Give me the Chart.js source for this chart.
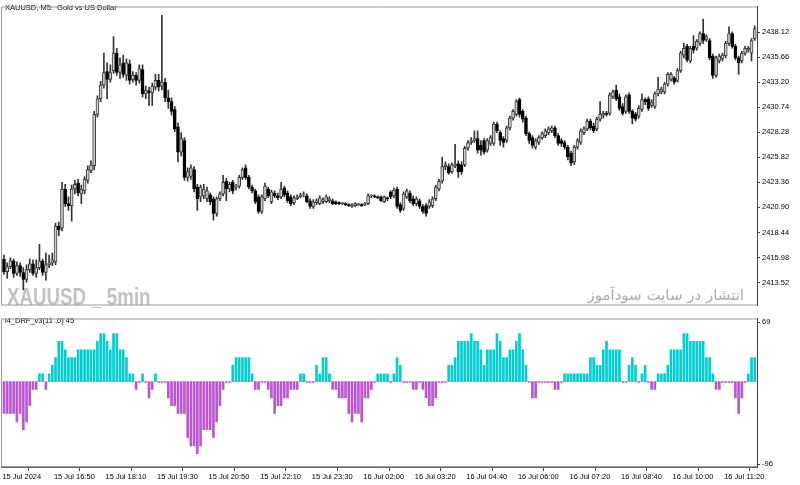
<!DOCTYPE html>
<html>
<head>
<meta charset="utf-8">
<script src="https://cdn.jsdelivr.net/npm/chart.js@4.4.1/dist/chart.umd.min.js"></script>
<style>
  html, body { margin: 0; padding: 0; background: #fff; }
  #wrap { position: relative; width: 800px; height: 485px; overflow: hidden; }
  #priceBox { position: absolute; left: 0; top: 0; width: 800px; height: 312px; }
  #indBox { position: absolute; left: 0; top: 312px; width: 800px; height: 173px; }
</style>
</head>
<body>
<div id="wrap">
  <div id="priceBox"><canvas id="priceChart"></canvas></div>
  <div id="indBox"><canvas id="indChart"></canvas></div>
</div>
<script>
// XAUUSD M5 candles (open / close / high / low), one entry per bar
const openP = [
  2415.84, 2414.60, 2415.08, 2415.65, 2414.41, 2415.18, 2414.51, 2413.84, 2414.79, 2415.37,
  2414.41, 2414.99, 2415.65, 2414.51, 2415.27, 2415.46, 2415.56, 2419.08, 2418.89, 2422.71,
  2421.28, 2421.08, 2422.71, 2423.28, 2422.23, 2422.52, 2423.56, 2424.51, 2424.99, 2430.04,
  2431.57, 2432.91, 2434.24, 2433.48, 2434.34, 2436.05, 2434.15, 2435.10, 2433.86, 2435.00,
  2433.48, 2433.86, 2433.38, 2434.43, 2432.05, 2432.34, 2432.15, 2432.72, 2433.38, 2432.81,
  2433.19, 2431.67, 2431.29, 2430.52, 2428.81, 2426.33, 2427.47, 2423.85, 2423.94, 2424.61,
  2422.90, 2421.94, 2422.04, 2421.75, 2422.13, 2421.75, 2420.32, 2421.75, 2422.23, 2423.47,
  2422.71, 2423.37, 2422.90, 2422.99, 2423.85, 2424.80, 2423.85, 2422.90, 2422.52, 2421.94,
  2420.51, 2421.75, 2422.71, 2421.46, 2422.32, 2422.04, 2421.94, 2422.80, 2422.32, 2421.94,
  2421.37, 2421.75, 2421.94, 2422.13, 2422.04, 2421.56, 2420.99, 2421.37, 2421.28, 2421.46,
  2421.46, 2421.56, 2421.56, 2421.46, 2421.37, 2421.28, 2421.28, 2421.18, 2420.99,
  2421.08, 2421.18, 2421.18, 2421.18, 2421.28, 2422.04, 2422.04, 2421.94, 2421.94, 2421.46,
  2421.85, 2422.42, 2422.04, 2422.71, 2421.18, 2420.80, 2421.94, 2422.32, 2421.75, 2421.28,
  2421.56, 2420.99, 2421.08, 2420.99, 2421.08, 2421.75, 2422.71, 2423.47, 2424.90, 2424.90,
  2424.42, 2424.99, 2425.18, 2425.09, 2425.09, 2426.71, 2427.28, 2427.47, 2427.66, 2427.00,
  2427.47, 2426.52, 2427.19, 2427.19, 2429.09, 2428.24, 2427.66, 2427.47, 2428.71, 2429.67,
  2430.04, 2431.48, 2430.33, 2429.67, 2428.14, 2427.76, 2426.81, 2427.28, 2427.76, 2427.95,
  2428.24, 2428.43, 2428.71, 2427.95, 2427.47, 2427.28, 2426.81, 2426.23, 2425.38, 2426.81,
  2427.28, 2428.24, 2428.62, 2429.38, 2428.90, 2428.62, 2429.57, 2429.95, 2430.14, 2430.14,
  2431.76, 2432.43, 2431.76, 2430.81, 2430.33, 2431.95, 2430.33, 2430.04, 2429.86, 2430.52,
  2431.48, 2431.57, 2430.91, 2430.81, 2432.05, 2432.24, 2432.24, 2433.00, 2433.48, 2433.58,
  2433.38, 2434.34, 2435.86, 2436.72, 2435.29, 2436.72, 2436.53, 2437.01, 2437.96, 2437.39,
  2437.29, 2435.77, 2433.86, 2435.29, 2435.48, 2435.77, 2437.01, 2437.96, 2436.72, 2435.58,
  2435.29, 2436.05, 2436.34, 2436.05, 2437.48
];
const closeP = [
  2414.60, 2415.08, 2415.65, 2414.41, 2415.18, 2414.51, 2413.84, 2414.79, 2415.37, 2414.41,
  2414.99, 2415.65, 2414.51, 2415.27, 2415.46, 2415.75, 2419.08, 2418.70, 2422.71, 2421.28,
  2421.08, 2422.71, 2423.18, 2422.32, 2422.71, 2423.66, 2424.61, 2425.09, 2430.04, 2431.57,
  2432.91, 2434.15, 2433.48, 2434.15, 2436.05, 2434.15, 2434.91, 2433.96, 2435.10, 2433.38,
  2433.86, 2433.38, 2434.53, 2432.05, 2432.43, 2432.15, 2432.81, 2433.38, 2432.72, 2433.19,
  2431.67, 2431.29, 2430.33, 2428.62, 2426.33, 2427.66, 2423.85, 2424.42, 2424.80, 2422.71,
  2421.75, 2422.90, 2422.71, 2422.52, 2421.46, 2420.32, 2421.75, 2422.23, 2423.37, 2422.71,
  2423.18, 2422.52, 2422.99, 2423.85, 2424.61, 2423.85, 2422.90, 2422.52, 2421.46, 2420.51,
  2421.94, 2422.99, 2422.04, 2422.42, 2422.04, 2421.85, 2422.71, 2422.13, 2421.56, 2421.28,
  2421.85, 2421.94, 2422.13, 2422.13, 2421.46, 2420.99, 2421.46, 2421.56, 2421.85, 2421.66,
  2421.94, 2421.75, 2421.28, 2421.28, 2421.28, 2421.28, 2421.18, 2421.08, 2421.18,
  2421.28, 2421.18, 2421.08, 2421.28, 2422.04, 2422.04, 2421.94, 2421.85, 2421.56, 2421.94,
  2421.75, 2421.94, 2422.61, 2420.99, 2420.61, 2422.23, 2422.52, 2421.56, 2421.28, 2421.75,
  2420.99, 2420.51, 2420.32, 2421.46, 2421.75, 2422.90, 2423.47, 2424.90, 2425.09, 2424.32,
  2425.09, 2425.18, 2424.42, 2424.42, 2426.71, 2427.28, 2427.47, 2427.66, 2426.52, 2426.52,
  2426.33, 2427.47, 2427.76, 2429.09, 2428.43, 2427.47, 2427.28, 2428.71, 2429.67, 2430.33,
  2431.29, 2430.04, 2429.57, 2428.14, 2427.47, 2427.00, 2427.47, 2427.76, 2428.14, 2428.43,
  2428.62, 2428.71, 2427.95, 2427.19, 2427.19, 2426.81, 2425.85, 2425.28, 2426.81, 2427.47,
  2428.43, 2428.62, 2429.38, 2428.71, 2428.43, 2429.57, 2430.04, 2430.14, 2430.04, 2431.95,
  2432.24, 2431.57, 2430.62, 2430.14, 2431.76, 2430.33, 2429.67, 2429.57, 2430.62, 2431.48,
  2431.29, 2430.62, 2431.19, 2432.05, 2432.53, 2432.53, 2433.00, 2433.96, 2433.96, 2433.19,
  2434.34, 2436.05, 2436.53, 2435.39, 2436.53, 2436.34, 2437.20, 2437.96, 2437.29, 2437.67,
  2435.58, 2433.86, 2435.58, 2435.77, 2435.86, 2437.01, 2437.96, 2436.72, 2435.58, 2435.10,
  2436.05, 2436.53, 2436.53, 2437.29, 2438.44
];
const highP = [
  2416.23, 2415.46, 2415.94, 2415.84, 2415.56, 2415.46, 2414.99, 2415.27, 2415.84, 2415.75,
  2415.75, 2417.27, 2415.84, 2416.42, 2416.23, 2416.42, 2419.37, 2419.47, 2423.37, 2423.18,
  2421.94, 2423.09, 2423.56, 2423.66, 2423.09, 2423.94, 2424.99, 2425.47, 2430.33, 2431.86,
  2433.29, 2436.05, 2435.10, 2434.91, 2437.67, 2436.53, 2435.58, 2435.86, 2435.48, 2435.39,
  2434.24, 2434.15, 2434.91, 2434.91, 2432.81, 2432.72, 2433.10, 2433.96, 2433.96, 2439.77,
  2433.58, 2432.43, 2431.67, 2430.81, 2429.19, 2428.24, 2427.76, 2424.80, 2425.09, 2424.90,
  2423.18, 2423.09, 2423.18, 2422.90, 2422.32, 2421.94, 2421.94, 2422.42, 2424.04, 2423.75,
  2423.37, 2423.56, 2423.18, 2424.04, 2424.80, 2425.09, 2424.04, 2423.09, 2422.71, 2422.13,
  2422.13, 2423.28, 2422.90, 2422.61, 2422.52, 2422.32, 2423.37, 2422.99, 2422.52, 2422.13,
  2422.04, 2422.13, 2422.32, 2422.42, 2422.23, 2421.75, 2421.66, 2421.75, 2422.04, 2421.85,
  2422.13, 2421.94, 2421.75, 2421.56, 2421.46, 2421.37, 2421.37, 2421.28, 2421.28,
  2421.37, 2421.28, 2421.28, 2421.37, 2422.23, 2422.13, 2422.13, 2422.04, 2422.04, 2422.04,
  2421.94, 2422.52, 2422.80, 2422.90, 2421.37, 2422.42, 2422.71, 2422.52, 2422.04, 2421.94,
  2421.75, 2421.18, 2421.28, 2421.66, 2421.94, 2423.09, 2423.66, 2425.85, 2425.38, 2425.18,
  2425.28, 2427.09, 2425.47, 2425.38, 2426.90, 2427.47, 2427.76, 2428.43, 2428.43, 2427.47,
  2427.66, 2427.66, 2427.95, 2429.28, 2429.28, 2428.43, 2427.85, 2428.90, 2429.86, 2430.52,
  2431.48, 2431.67, 2430.52, 2429.86, 2428.33, 2427.95, 2427.66, 2427.95, 2428.33, 2428.62,
  2428.81, 2428.90, 2428.90, 2428.14, 2427.66, 2427.47, 2427.00, 2426.43, 2427.00, 2427.66,
  2428.62, 2428.81, 2429.57, 2429.57, 2429.19, 2429.76, 2431.29, 2430.33, 2430.33, 2432.15,
  2432.43, 2432.91, 2432.05, 2431.10, 2431.95, 2432.15, 2430.52, 2430.24, 2430.91, 2432.05,
  2431.67, 2431.76, 2431.48, 2432.24, 2433.67, 2432.72, 2433.19, 2434.15, 2434.15, 2433.77,
  2434.53, 2436.24, 2437.01, 2436.91, 2436.72, 2437.77, 2437.39, 2438.15, 2439.39, 2437.86,
  2437.48, 2435.96, 2435.77, 2435.96, 2436.05, 2437.20, 2438.63, 2438.15, 2436.91, 2435.77,
  2436.24, 2436.72, 2436.72, 2437.48, 2438.72
];
const lowP = [
  2414.32, 2413.94, 2414.89, 2414.03, 2414.22, 2414.13, 2412.79, 2413.56, 2414.51, 2414.22,
  2414.03, 2414.79, 2414.22, 2413.75, 2414.99, 2415.18, 2415.27, 2418.13, 2418.60, 2420.99,
  2420.61, 2419.56, 2422.23, 2422.04, 2421.28, 2422.23, 2423.28, 2424.32, 2424.61, 2429.76,
  2431.29, 2432.62, 2431.57, 2433.19, 2434.05, 2433.86, 2433.58, 2433.67, 2433.38, 2433.00,
  2433.19, 2432.91, 2433.10, 2431.76, 2431.57, 2430.91, 2430.91, 2432.43, 2432.34, 2432.43,
  2431.29, 2430.62, 2429.95, 2428.33, 2425.38, 2425.95, 2423.56, 2423.47, 2423.66, 2422.42,
  2420.61, 2421.46, 2421.75, 2421.46, 2421.18, 2419.66, 2420.04, 2421.56, 2422.04, 2421.56,
  2422.42, 2422.23, 2422.61, 2422.80, 2423.66, 2423.66, 2422.71, 2422.32, 2421.28, 2420.32,
  2420.32, 2421.56, 2421.85, 2421.28, 2421.85, 2421.66, 2421.75, 2421.94, 2421.37, 2421.08,
  2421.18, 2421.66, 2421.85, 2421.94, 2421.37, 2420.80, 2420.80, 2421.18, 2421.18, 2421.28,
  2421.37, 2421.37, 2421.18, 2421.18, 2421.18, 2421.18, 2421.08, 2420.99, 2420.89,
  2420.99, 2421.08, 2420.99, 2421.08, 2421.18, 2421.85, 2421.85, 2421.75, 2421.46, 2421.37,
  2421.56, 2421.75, 2421.85, 2420.80, 2420.42, 2420.61, 2421.75, 2421.37, 2421.08, 2421.08,
  2420.80, 2420.32, 2420.04, 2420.80, 2420.89, 2421.56, 2422.52, 2423.28, 2424.61, 2424.13,
  2424.23, 2424.80, 2423.85, 2424.13, 2424.90, 2426.52, 2427.09, 2427.28, 2426.23, 2426.04,
  2426.14, 2426.33, 2427.00, 2427.00, 2428.24, 2427.00, 2426.81, 2427.28, 2428.52, 2429.48,
  2429.86, 2429.76, 2429.28, 2427.95, 2427.19, 2426.71, 2426.62, 2427.09, 2427.57, 2427.76,
  2428.05, 2428.24, 2427.76, 2427.00, 2426.90, 2426.62, 2425.57, 2424.99, 2425.09, 2426.62,
  2427.09, 2428.05, 2428.43, 2428.52, 2428.24, 2428.43, 2429.38, 2429.67, 2429.86, 2429.95,
  2431.57, 2431.38, 2430.43, 2429.95, 2430.14, 2430.14, 2429.09, 2429.38, 2429.67, 2430.33,
  2431.00, 2430.43, 2430.72, 2430.62, 2431.86, 2432.05, 2432.05, 2432.81, 2433.29, 2433.00,
  2433.19, 2434.15, 2435.58, 2435.19, 2435.10, 2436.05, 2436.34, 2436.82, 2437.01, 2437.20,
  2435.39, 2433.58, 2433.67, 2435.10, 2435.29, 2435.58, 2436.82, 2436.53, 2435.39, 2433.96,
  2435.10, 2435.86, 2436.15, 2435.29, 2437.29
];

// indicator i4_DRF_v3 histogram, one value per bar
const drfValues = [
  -37, -37, -37, -37, -47, -37, -56, -47, -28, -9,
  -9, 9, 9, -9, 9, 19, 28, 47, 47, 37,
  28, 28, 28, 37, 37, 37, 37, 37, 37, 47,
  56, 56, 47, 37, 56, 56, 37, 37, 28, 9,
  9, -9, -1, 9, -1, -19, -9, 9, -1, -1,
  -1, -19, -28, -28, -37, -37, -37, -65, -75, -75,
  -84, -75, -56, -56, -56, -65, -47, -28, -9, -1,
  -1, 19, 28, 28, 28, 28, 28, 9, -9, -9,
  -1, -1, -9, -19, -37, -28, -28, -19, -19, -9,
  -9, -9, 9, 9, -1, -1, -1, 19, 9, 28,
  28, 9, -9, -9, -19, -19, -19, -37, -47, -37,
  -37, -47, -19, -19, -9, -1, 9, 9, 9, 9,
  -1, 9, 28,
  19, -1, -1, -1, -9, -9, -1, -9, -19, -28,
  -28, -19, -1, -1, -1, 19, 19, 28, 47, 47,
  47, 47, 56, 47, 47, 37, 19, 37, 37, 37,
  56, 47, 28, 28, 37, 37, 47, 56, 37, 19,
  -1, -19, -19, -1, -1, -1, -1, -1, -9, -9,
  -1, 9, 9, 9, 9, 9, 9, 9, 9, 28,
  28, 19, 19, 37, 47, 37, 37, 37, 37, -1,
  -1, 19, 28, 19, -1, 9, 19, -1, -9, -9,
  9, 9, 9, 19, 37, 37, 37, 37, 56, 56,
  47, 47, 47, 47, 47, 28, 28, 9, -9, -9,
  -1, -1, -1, -1, -19, -37, -19, -1, 9, 28,
  28
];

// axis labels
const priceTicks = [2413.52, 2415.98, 2418.44, 2420.90, 2423.36, 2425.82, 2428.28, 2430.74, 2433.20, 2435.66, 2438.12];
const drfTicks = [69, -96];
const timeTickBars = [0, 16, 32, 48, 64, 80, 96, 112, 128, 144, 160, 176, 192, 208, 224];
const timeLabels = ['15 Jul 2024', '15 Jul 16:50', '15 Jul 18:10', '15 Jul 19:30', '15 Jul 20:50',
  '15 Jul 22:10', '15 Jul 23:30', '16 Jul 02:00', '16 Jul 03:20', '16 Jul 04:40',
  '16 Jul 06:00', '16 Jul 07:20', '16 Jul 08:40', '16 Jul 10:00', '16 Jul 11:20'];

const smallFont = { family: '"Liberation Sans", Arial, sans-serif', size: 7.5 };
const xMin = -0.93, xMax = 233.7;

// cornice del pannello
const framePlugin = {
  id: 'frame',
  afterDraw(chart) {
    const a = chart.chartArea, c = chart.ctx;
    c.save();
    c.strokeStyle = '#9a9a9a';
    c.lineWidth = 1;
    c.beginPath();
    c.moveTo(a.left + 0.5, a.bottom);
    c.lineTo(a.left + 0.5, a.top + 0.5);
    c.lineTo(a.right, a.top + 0.5);
    c.moveTo(a.left, a.bottom - 0.5);
    c.lineTo(a.right, a.bottom - 0.5);
    c.stroke();
    c.restore();
  }
};

const priceText = {
  id: 'priceText',
  beforeDatasetsDraw(chart) {
    const c = chart.ctx;
    c.save();
    c.fillStyle = '#c2c2c2';
    c.font = 'bold 24px "Liberation Sans", Arial, sans-serif';
    c.textBaseline = 'alphabetic';
    c.translate(7, 305);
    c.scale(0.78, 1);
    c.fillText('XAUUSD _ 5min', 0, 0);
    c.restore();

    c.save();
    c.fillStyle = '#adadad';
    c.font = '15px "DejaVu Sans", sans-serif';
    c.textAlign = 'right';
    c.textBaseline = 'alphabetic';
    c.fillText('انتشار در سایت سودآموز', 744, 300);
    c.restore();
  },
  afterDraw(chart) {
    const c = chart.ctx;
    c.save();
    c.fillStyle = '#000';
    c.font = '7.5px "Liberation Sans", Arial, sans-serif';
    c.textBaseline = 'middle';
    c.fillText('XAUUSD, M5:  Gold vs US Dollar', 5, 8);
    c.restore();
  }
};

const indText = {
  id: 'indText',
  afterDraw(chart) {
    const c = chart.ctx;
    c.save();
    c.fillStyle = '#000';
    c.font = '7.5px "Liberation Sans", Arial, sans-serif';
    c.textBaseline = 'middle';
    c.fillText('i4_DRF_v3(11 ,0) 45', 5, 8.5);
    c.restore();
  }
};

function isBear(i) { return closeP[i] < openP[i]; }

new Chart(document.getElementById('priceChart'), {
  type: 'bar',
  data: {
    datasets: [
      {
        label: 'body',
        data: openP.map((o, i) => ({ x: i, y: [o, closeP[i]] })),
        backgroundColor: ctx => isBear(ctx.dataIndex) ? '#000000' : '#cfcfcf',
        borderColor: ctx => isBear(ctx.dataIndex) ? '#000000' : '#3a3a3a',
        borderWidth: 1,
        borderSkipped: false,
        barThickness: 3,
        minBarLength: 1,
        grouped: false,
        order: 1
      },
      {
        label: 'wick',
        data: lowP.map((l, i) => ({ x: i, y: [l, highP[i]] })),
        backgroundColor: '#333333',
        barThickness: 1,
        grouped: false,
        order: 2
      }
    ]
  },
  options: {
    animation: false,
    responsive: true,
    maintainAspectRatio: false,
    layout: { padding: { left: 1, top: 2, right: 0, bottom: 2 } },
    plugins: { legend: { display: false }, tooltip: { enabled: false } },
    scales: {
      x: { type: 'linear', min: xMin, max: xMax, offset: false, display: false },
      y: {
        position: 'right',
        min: 2411.27,
        max: 2440.63,
        afterBuildTicks: s => { s.ticks = priceTicks.map(v => ({ value: v })); },
        afterFit: s => { s.width = 43; },
        ticks: { callback: v => v.toFixed(2), font: smallFont, color: '#000', padding: 2 },
        grid: { drawOnChartArea: false, tickLength: 3, color: '#444' },
        border: { color: '#444' }
      }
    }
  },
  plugins: [priceText, framePlugin]
});

new Chart(document.getElementById('indChart'), {
  type: 'bar',
  data: {
    datasets: [{
      label: 'DRF',
      data: drfValues.map((v, i) => ({ x: i, y: v })),
      backgroundColor: ctx => drfValues[ctx.dataIndex] > 0 ? '#00ced1' : '#ba55d3',
      barThickness: 2,
      grouped: false
    }]
  },
  options: {
    animation: false,
    responsive: true,
    maintainAspectRatio: false,
    layout: { padding: { left: 1, top: 1, right: 0, bottom: 0 } },
    plugins: { legend: { display: false }, tooltip: { enabled: false } },
    scales: {
      x: {
        type: 'linear',
        min: xMin,
        max: xMax,
        offset: false,
        afterBuildTicks: s => { s.ticks = timeTickBars.map(v => ({ value: v - 0.5 })); },
        afterFit: s => { s.height = 18; },
        ticks: { callback: (v, i) => timeLabels[i], align: 'start', font: smallFont, color: '#000', padding: 1, maxRotation: 0, autoSkip: false },
        grid: { drawOnChartArea: false, tickLength: 4, color: '#444' },
        border: { color: '#666' }
      },
      y: {
        position: 'right',
        min: -99.4,
        max: 73.5,
        afterBuildTicks: s => { s.ticks = drfTicks.map(v => ({ value: v })); },
        afterFit: s => { s.width = 43; },
        ticks: { callback: v => String(v), font: smallFont, color: '#000', padding: 2 },
        grid: { drawOnChartArea: false, tickLength: 3, color: '#444' },
        border: { color: '#444' }
      }
    }
  },
  plugins: [indText, framePlugin]
});
</script>
</body>
</html>
